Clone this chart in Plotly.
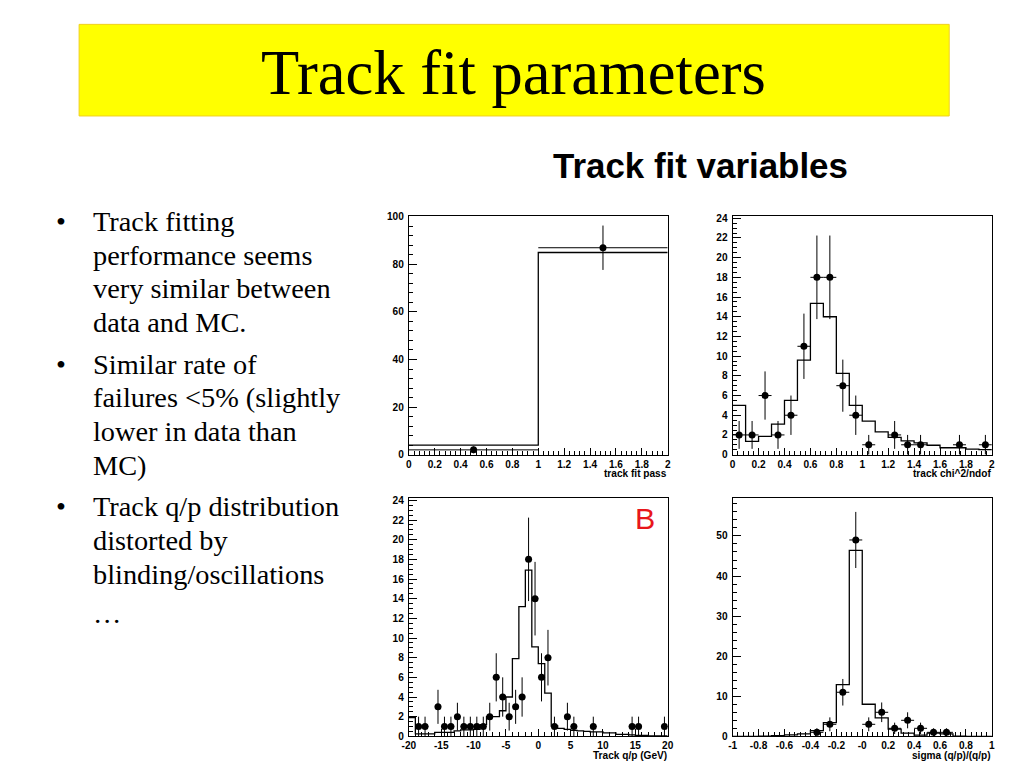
import numpy as np
import plotly.graph_objects as go

# ---------------- data ----------------
# Panel 1: track fit pass
pass_edges = [0, 1, 2]
pass_mc = [4.0, 85.0]
pass_data_x = [0.5, 1.5]
pass_data = [2, 87]
pass_data_xerr = [0.5, 0.5]

# Panel 2: track chi^2/ndof
chi2_edges = [0.0, 0.1, 0.2, 0.3, 0.4, 0.5, 0.6, 0.7, 0.8, 0.9, 1.0,
              1.1, 1.2, 1.3, 1.4, 1.5, 1.6, 1.7, 1.8, 1.9, 2.0]
chi2_mc = [5.0, 1.35, 1.85, 3.1, 5.5, 9.6, 15.35, 14.0, 8.25, 5.0,
           3.4, 2.3, 1.75, 1.4, 1.2, 0.95, 0.7, 0.7, 0.55, 0.5]
chi2_data_x = [0.05, 0.15, 0.25, 0.35, 0.45, 0.55, 0.65, 0.75, 0.85, 0.95,
               1.05, 1.25, 1.35, 1.45, 1.75, 1.95]
chi2_data = [2, 2, 6, 2, 4, 11, 18, 18, 7, 4, 1, 2, 1, 1, 1, 1]

# Panel 3: Track q/p (GeV)
qp_edges = [-20, -19, -18, -17, -16, -15, -14, -13, -12, -11, -10, -9, -8, -7,
            -6, -5, -4, -3, -2, -1, 0, 1, 2, 3, 4, 5, 6, 7, 8, 9, 10, 11, 12,
            13, 14, 15, 16, 17, 18, 19, 20]
qp_mc = [1.9, 0.25, 0.25, 0.25, 0.4, 0.4, 0.4, 0.55, 0.65, 0.65, 0.7, 1.2,
         2.0, 2.0, 2.6, 4.0, 7.9, 13.2, 16.9, 9.1, 7.4, 4.4, 1.05, 0.8, 0.7,
         0.6, 0.55, 0.5, 0.45, 0.45, 0.35, 0.35, 0.2, 0.2, 0.15, 0.1, 0.1,
         0.05, 0.05, 0.05]
qp_data_x = [-18.5, -17.5, -15.5, -14.5, -13.5, -12.5, -11.5, -10.5, -9.5,
             -8.5, -7.5, -6.5, -5.5, -4.5, -3.5, -2.5, -1.5, -0.5, 0.5, 1.5,
             2.5, 4.5, 5.5, 8.5, 14.5, 15.5, 19.5]
qp_data = [1, 1, 3, 1, 1, 2, 1, 1, 1, 1, 2, 6, 4, 2, 3, 4, 18, 14, 6, 8,
           1, 2, 1, 1, 1, 1, 1]

# Panel 4: sigma (q/p)/(q/p)
sig_edges = [-1.0, -0.9, -0.8, -0.7, -0.6, -0.5, -0.4, -0.3, -0.2, -0.1, 0.0,
             0.1, 0.2, 0.3, 0.4, 0.5, 0.6, 0.7, 0.8, 0.9, 1.0]
sig_mc = [0.0, 0.0, 0.05, 0.2, 0.35, 0.6, 1.4, 3.4, 12.9, 46.4,
          8.0, 4.6, 1.8, 0.8, 0.3, 0.8, 0.6, 0.05, 0.0, 0.0]
sig_data_x = [-0.35, -0.25, -0.15, -0.05, 0.05, 0.15, 0.25, 0.35, 0.45, 0.55, 0.65]
sig_data = [1, 3, 11, 49, 3, 6, 2, 4, 2, 1, 1]

# Tick labels
pass_xticks = [0, 0.2, 0.4, 0.6, 0.8, 1, 1.2, 1.4, 1.6, 1.8, 2]
pass_xticklabels = ["0", "0.2", "0.4", "0.6", "0.8", "1", "1.2", "1.4", "1.6", "1.8", "2"]
pass_yticks = [0, 20, 40, 60, 80, 100]
chi2_yticks = [0, 2, 4, 6, 8, 10, 12, 14, 16, 18, 20, 22, 24]
qp_xticks = [-20, -15, -10, -5, 0, 5, 10, 15, 20]
qp_xticklabels = ["-20", "-15", "-10", "-5", "0", "5", "10", "15", "20"]
sig_xticks = [-1, -0.8, -0.6, -0.4, -0.2, 0, 0.2, 0.4, 0.6, 0.8, 1]
sig_xticklabels = ["-1", "-0.8", "-0.6", "-0.4", "-0.2", "-0", "0.2", "0.4", "0.6", "0.8", "1"]
sig_yticks = [0, 10, 20, 30, 40, 50]

axis_titles = ["track fit pass", "track chi^2/ndof", "Track q/p (GeV)", "sigma (q/p)/(q/p)"]

slide_title = "Track fit parameters"
panel_header = "Track fit variables"
bullet_lines = [
    ["Track fitting", "performance seems", "very similar between", "data and MC."],
    ["Similar rate of", "failures <5% (slightly", "lower in data than", "MC)"],
    ["Track q/p distribution", "distorted by", "blinding/oscillations", "\u2026"],
]

# ---------------- layout helpers ----------------
W, H = 1024, 768
S = 0.988  # the viewer shows the page slightly shrunk about its centre


def X(x):
    return W / 2 + (x - W / 2) / S


def Y(y):
    return H / 2 + (y - H / 2) / S


def px(x):
    return X(x) / W


def py(y):
    return 1 - Y(y) / H


def fs(size):
    return size / S


fig = go.Figure()

TICKFONT = dict(family="Liberation Sans, Arial, sans-serif", size=fs(10), color="black", weight=700)


def add_panel(idx, edges, mc, dx, dy, dxerr, xr, yr, xdom, ydom,
              xtickvals, xticktext, xminor, ytickvals, yminor):
    xa = "x" if idx == 1 else f"x{idx}"
    ya = "y" if idx == 1 else f"y{idx}"
    # MC histogram as step line
    fig.add_trace(go.Scatter(
        x=list(edges), y=list(mc) + [mc[-1]], mode="lines",
        line=dict(color="black", width=1.3, shape="hv"),
        xaxis=xa, yaxis=ya, hoverinfo="skip", showlegend=False))
    # data points with error bars
    fig.add_trace(go.Scatter(
        x=dx, y=dy, mode="markers",
        marker=dict(color="black", size=7),
        error_y=dict(type="data", array=list(np.sqrt(np.array(dy, dtype=float))),
                     color="black", thickness=1, width=0),
        error_x=dict(type="data", array=dxerr, color="black", thickness=1, width=0),
        xaxis=xa, yaxis=ya, showlegend=False))
    key = "" if idx == 1 else str(idx)
    fig.update_layout(**{
        f"xaxis{key}": dict(
            domain=xdom, range=xr, anchor=ya, showgrid=False, zeroline=False,
            showline=True, mirror=True, linecolor="black", linewidth=1,
            ticks="inside", ticklen=7, tickcolor="black", tickwidth=1,
            tickmode="array", tickvals=xtickvals, ticktext=xticktext,
            tickfont=TICKFONT, ticklabelstandoff=0,
            minor=dict(tickmode="linear", tick0=xr[0], dtick=xminor, ticks="inside",
                       ticklen=4, tickcolor="black", showgrid=False),
        ),
        f"yaxis{key}": dict(
            domain=ydom, range=yr, anchor=xa, showgrid=False, zeroline=False,
            showline=True, mirror=True, linecolor="black", linewidth=1,
            ticks="inside", ticklen=8, tickcolor="black", tickwidth=1,
            tickmode="array", tickvals=ytickvals, ticktext=[str(v) for v in ytickvals],
            tickfont=TICKFONT, ticklabelstandoff=2,
            minor=dict(tickmode="linear", tick0=0, dtick=yminor, ticks="inside",
                       ticklen=4, tickcolor="black", showgrid=False),
        ),
    })


def err_half(edges, xs):
    w = edges[1] - edges[0]
    return [w / 2] * len(xs)


L1, R1 = 408.3, 667.3
L2, R2 = 732.3, 991.7
T1, B1 = 216.7, 455.7
T2, B2 = 499.0, 737.7

add_panel(1, pass_edges, pass_mc, pass_data_x, pass_data, pass_data_xerr,
          [0, 2], [0, 100.4], [px(L1), px(R1)], [py(B1), py(T1)],
          pass_xticks, pass_xticklabels, 0.04, pass_yticks, 4)
add_panel(2, chi2_edges, chi2_mc, chi2_data_x, chi2_data, err_half(chi2_edges, chi2_data_x),
          [0, 2], [0, 24.24], [px(L2), px(R2)], [py(B1), py(T1)],
          pass_xticks, pass_xticklabels, 0.04, chi2_yticks, 0.5)
add_panel(3, qp_edges, qp_mc, qp_data_x, qp_data, err_half(qp_edges, qp_data_x),
          [-20, 20], [0, 24.25], [px(L1), px(R1)], [py(B2), py(T2)],
          qp_xticks, qp_xticklabels, 1, chi2_yticks, 0.5)
add_panel(4, sig_edges, sig_mc, sig_data_x, sig_data, err_half(sig_edges, sig_data_x),
          [-1, 1], [0, 59.5], [px(L2), px(R2)], [py(B2), py(T2)],
          sig_xticks, sig_xticklabels, 0.04, sig_yticks, 2)

annotations = []
# axis titles (ROOT style, right aligned)
for title, xr_, yc in zip(axis_titles, [R1, R2, R1, R2], [475.0, 475.0, 757.0, 757.0]):
    annotations.append(dict(
        text=title, x=px(xr_), y=py(yc), xref="paper", yref="paper",
        xanchor="right", yanchor="middle", showarrow=False, borderpad=0,
        font=dict(family="Liberation Sans, Arial, sans-serif", size=fs(10), color="black", weight=700)))

# slide title
annotations.append(dict(
    text=slide_title, x=px(513.5), y=py(73.5), xref="paper", yref="paper",
    xanchor="center", yanchor="middle", showarrow=False,
    font=dict(family="Liberation Serif, Times New Roman, serif", size=fs(61.8), color="black")))

# panel header
annotations.append(dict(
    text=panel_header, x=px(700), y=py(166.0), xref="paper", yref="paper",
    xanchor="center", yanchor="middle", showarrow=False,
    font=dict(family="Liberation Sans, Arial, sans-serif", size=fs(34.5), color="black", weight=700)))

# red B
annotations.append(dict(
    text="B", x=px(645), y=py(519.5), xref="paper", yref="paper",
    xanchor="center", yanchor="middle", showarrow=False,
    font=dict(family="Liberation Sans, Arial, sans-serif", size=fs(30), color="#e8161b")))

# bullets
bullet_baselines = [[233, 266.5, 300, 333.5], [376, 409.5, 443.5, 477.5], [518.5, 552.5, 586.5, 625]]
for lines, bases in zip(bullet_lines, bullet_baselines):
    annotations.append(dict(
        text="\u2022", x=px(60), y=py(bases[0] - 10.5), xref="paper", yref="paper",
        xanchor="center", yanchor="middle", showarrow=False,
        font=dict(family="Liberation Serif, Times New Roman, serif", size=fs(28), color="black")))
    for line, b in zip(lines, bases):
        annotations.append(dict(
            text=line, x=px(91), y=py(b - 10.5), xref="paper", yref="paper",
            xanchor="left", yanchor="middle", showarrow=False, borderpad=0,
            font=dict(family="Liberation Serif, Times New Roman, serif", size=fs(28), color="black")))

shapes = [dict(type="rect", xref="paper", yref="paper",
               x0=px(78.3), x1=px(949), y0=py(116.7), y1=py(25),
               fillcolor="#ffff00", line=dict(color="#f0d020", width=1), layer="below")]

fig.update_layout(
    width=W, height=H, autosize=False,
    margin=dict(l=0, r=0, t=0, b=0),
    paper_bgcolor="white", plot_bgcolor="white",
    showlegend=False, hovermode=False,
    annotations=annotations, shapes=shapes,
)

fig.write_html(
    "out.html",
    config={"displayModeBar": False},
    post_script="document.body.style.margin='0px';document.body.style.padding='0px';"
                "document.body.style.overflow='hidden';",
)
